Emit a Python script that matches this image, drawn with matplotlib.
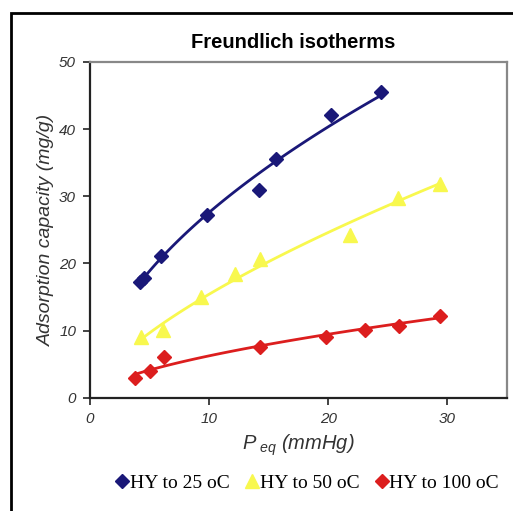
import numpy as np
import matplotlib
matplotlib.use('Agg')
import matplotlib.pyplot as plt
from matplotlib.patches import Rectangle

# data
x25 = [4.2, 4.5, 5.95, 9.85, 14.2, 15.6, 20.2, 24.4]
y25 = [17.2, 17.9, 21.1, 27.2, 30.9, 35.6, 42.1, 45.6]
x50 = [4.3, 6.1, 9.3, 12.2, 14.3, 21.8, 25.85, 29.35]
y50 = [9.0, 10.1, 15.0, 18.4, 20.6, 24.3, 29.7, 31.9]
x100 = [3.8, 5.05, 6.25, 14.25, 19.85, 23.1, 25.9, 29.4]
y100 = [3.0, 4.0, 6.1, 7.6, 9.1, 10.1, 10.7, 12.2]
labels = ['HY to 25 oC', 'HY to 50 oC', 'HY to 100 oC']

navy = '#1A1878'
yellow = '#F8F84E'
red = '#DC1E1E'

plt.rcParams['mathtext.fontset'] = 'custom'
plt.rcParams['mathtext.it'] = 'Liberation Sans:italic'

fig = plt.figure(figsize=(5.13, 5.11), dpi=100)
ax = fig.add_axes([90/513, 1-397.7/511, (507-90)/513, (397.7-62)/511])

def power_fit(x, y):
    # Freundlich: q = K * P^(1/n), fitted in log-log like an Excel power trendline
    b, a = np.polyfit(np.log(x), np.log(y), 1)
    xs = np.linspace(min(x), max(x), 100)
    return xs, np.exp(a) * xs ** b

for x, y, c, m, ms, lab in [(x25, y25, navy, 'D', 7, labels[0]),
                            (x50, y50, yellow, '^', 10, labels[1]),
                            (x100, y100, red, 'D', 7, labels[2])]:
    xs, ys = power_fit(x, y)
    ax.plot(xs, ys, color=c, lw=2, zorder=2)
    ax.plot(x, y, ls='none', marker=m, ms=ms, color=c, mec=c, label=lab, zorder=3)

ax.set_xlim(0, 35)
ax.set_ylim(0, 50)
ax.set_xticks([0, 10, 20, 30])
ax.set_yticks([0, 10, 20, 30, 40, 50])
ax.tick_params(direction='out', length=5, width=1.2, color='#222222', labelsize=11, pad=5)
for t in ax.get_xticklabels() + ax.get_yticklabels():
    t.set_fontstyle('italic')
    t.set_fontfamily('Liberation Sans')
    t.set_color('#333333')
for s in ['left', 'bottom']:
    ax.spines[s].set_color('#222222')
    ax.spines[s].set_linewidth(1.6)
for s in ['top', 'right']:
    ax.spines[s].set_color('#888888')
    ax.spines[s].set_linewidth(1.6)

ax.set_ylabel('Adsorption capacity (mg/g)', fontsize=14, fontstyle='italic',
              fontfamily='Liberation Sans', color='#333333', labelpad=3)
ax.set_xlabel(r'$\mathit{P}_{\ \mathit{eq}}$ (mmHg)', fontsize=14.5, fontstyle='italic',
              fontfamily='Liberation Sans', color='#333333', labelpad=5)

fig.text(293/513, 1-42/511, 'Freundlich isotherms', ha='center', va='center',
         fontsize=14.5, fontweight='bold', fontfamily='Liberation Sans')

fig.legend(loc='center', bbox_to_anchor=(308/513, 1-483/511), ncol=3, frameon=False,
           prop={'family': 'Liberation Serif', 'size': 14}, handlelength=0.5,
           handletextpad=0.15, columnspacing=0.9, borderaxespad=0, borderpad=0)

# outer frame of the chart area
fig.patches.append(Rectangle((11/513, -0.1), 1.2, 1 - 13/511 + 0.1, transform=fig.transFigure,
                             fill=False, ec='black', lw=2))

fig.savefig('out.png', dpi=100)
